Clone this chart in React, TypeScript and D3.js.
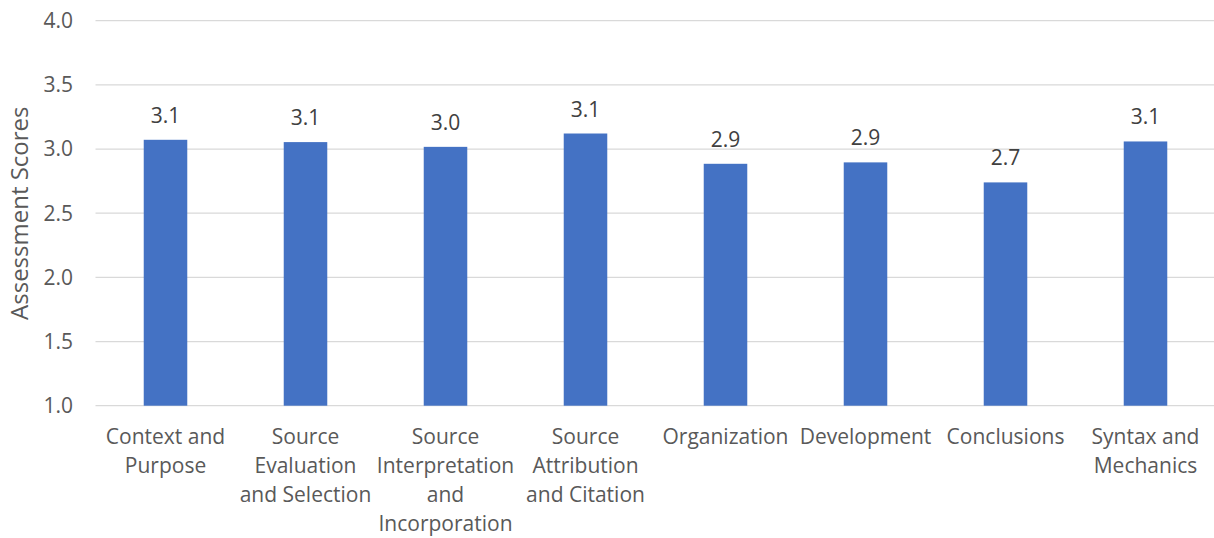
import React from "react";
import * as d3 from "d3";

const categories: string[][] = [
  ["Context and", "Purpose"],
  ["Source", "Evaluation", "and Selection"],
  ["Source", "Interpretation", "and", "Incorporation"],
  ["Source", "Attribution", "and Citation"],
  ["Organization"],
  ["Development"],
  ["Conclusions"],
  ["Syntax and", "Mechanics"],
];
const scores: number[] = [3.072, 3.054, 3.017, 3.121, 2.885, 2.896, 2.74, 3.059];
const yTicks: number[] = [1.0, 1.5, 2.0, 2.5, 3.0, 3.5, 4.0];
const yTitle = "Assessment Scores";

const W = 1214;
const H = 538;
const FONT = "'Open Sans', Lato, sans-serif";

export default function App() {
  const left = 95.5, right = 1215.5, top = 20.7, bottom = 405.7;
  const x = d3
    .scaleBand<number>()
    .domain(d3.range(categories.length))
    .range([left, right])
    .paddingInner(0.689)
    .paddingOuter(0.3445);
  const y = d3.scaleLinear().domain([1, 4]).range([bottom, top]);

  return (
    <svg
      width={W}
      height={H}
      style={{ position: "absolute", left: 0, top: 0, background: "#fff" }}
      fontFamily={FONT}
    >
      {yTicks.map((t) => (
        <g key={t}>
          <line x1={left} x2={W} y1={y(t)} y2={y(t)} stroke="#d9d9d9" strokeWidth={1.3} />
          <text x={73} y={y(t)} dy="0.35em" textAnchor="end" fontSize={21} fill="#595959">
            {d3.format(".1f")(t)}
          </text>
        </g>
      ))}
      {scores.map((v, i) => (
        <g key={i}>
          <rect
            x={x(i)!}
            y={y(v)}
            width={x.bandwidth()}
            height={y(1) - y(v)}
            fill="#4472c4"
          />
          <text
            x={x(i)! + x.bandwidth() / 2}
            y={y(v) - 17}
            textAnchor="middle"
            fontSize={21}
            fill="#404040"
          >
            {d3.format(".1f")(v)}
          </text>
        </g>
      ))}
      {categories.map((lines, i) => (
        <text
          key={i}
          x={x(i)! + x.bandwidth() / 2}
          y={444}
          textAnchor="middle"
          fontSize={21}
          fill="#595959"
        >
          {lines.map((l, j) => (
            <tspan key={j} x={x(i)! + x.bandwidth() / 2} dy={j === 0 ? 0 : 29}>
              {l}
            </tspan>
          ))}
        </text>
      ))}
      <text
        transform={`translate(28,${(top + bottom) / 2}) rotate(-90)`}
        textAnchor="middle"
        fontSize={24}
        fill="#595959"
      >
        {yTitle}
      </text>
    </svg>
  );
}
